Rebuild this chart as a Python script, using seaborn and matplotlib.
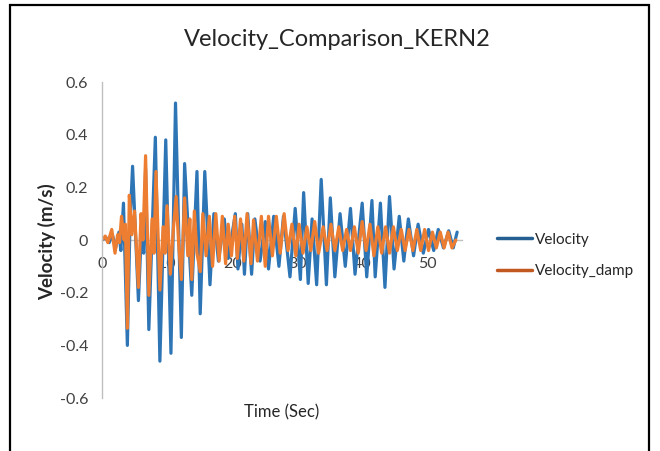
import matplotlib
matplotlib.use("Agg")
import matplotlib.pyplot as plt
import matplotlib.patches as mpatches
from matplotlib.lines import Line2D
import seaborn as sns
import pandas as pd

# ---------------- data ----------------
title = "Velocity_Comparison_KERN2"
series_names = ["Velocity", "Velocity_damp"]

vel_t = [0, 0.6, 1.1, 1.6, 2.1, 2.6, 2.9, 3.3, 3.9, 4.3, 4.7, 5.6, 6.1, 6.4, 6.7, 7.2,
         8.2, 8.9, 9.8, 10.6, 11.3, 12.2, 12.7, 13.8, 14.6, 15.1, 15.8, 16.6, 17.2, 17.9,
         18.8, 19.4, 20.5, 20.9, 21.5, 21.9, 22.4, 23.0, 23.5, 24.3, 25.1, 25.6, 26.4, 27.2,
         27.9, 28.9, 29.7, 30.5, 31.0, 31.7, 32.3, 33.0, 33.7, 34.5, 35.1, 35.8, 36.6, 37.4,
         38.2, 38.9, 40.0, 40.7, 41.5, 42.0, 42.8, 43.5, 44.2, 44.9, 45.7, 46.4, 47.1, 47.9,
         48.6, 49.4, 50.2, 51.0, 51.7, 52.5, 53.3, 54.0, 54.6]
vel_v = [0, 0.01, -0.01, 0.02, -0.03, 0.03, -0.04, 0.14, -0.40, 0.06, 0.28, -0.23, 0.06, -0.05,
         0.27, -0.34, 0.39, -0.46, 0.38, -0.43, 0.52, -0.37, 0.29, -0.21, 0.26, -0.28, 0.26,
         -0.17, 0.10, -0.08, 0.08, -0.07, 0.10, -0.11, 0.06, -0.13, 0.10, -0.13, 0.08, -0.08,
         0.07, -0.11, 0.09, -0.10, 0.09, -0.14, 0.12, -0.15, 0.18, -0.165, 0.08, -0.17, 0.23,
         -0.17, 0.16, -0.14, 0.10, -0.10, 0.12, -0.13, 0.14, -0.14, 0.15, -0.14, 0.14, -0.18,
         0.165, -0.11, 0.09, -0.08, 0.08, -0.06, 0.06, -0.05, 0.04, -0.04, 0.04, -0.03, 0.035,
         -0.03, 0.03]

damp_t = [0, 0.5, 0.9, 1.5, 2.0, 2.4, 2.7, 3.0, 3.4, 3.6, 3.9, 4.2, 4.6, 5.0, 5.6, 6.0, 6.3,
          6.7, 7.2, 7.7, 8.0, 8.3, 8.9, 9.4, 9.7, 10.0, 10.5, 11.0, 11.4, 11.8, 12.2, 12.7,
          13.2, 13.5, 13.8, 14.2, 14.6, 15.1, 15.5, 16.0, 16.5, 17.0, 17.5, 18.0, 18.5, 19.0,
          19.4, 19.9, 20.4, 20.8, 21.3, 21.8, 22.3, 22.9, 23.3, 23.9, 24.5, 25.1, 25.6, 26.2,
          26.8, 27.4, 28.0, 28.6, 29.2, 29.8, 30.3, 30.9, 31.5, 32.1, 32.7, 33.3, 34.0, 34.6,
          35.2, 35.8, 36.4, 37.0, 37.6, 38.2, 38.8, 39.4, 40.0, 40.6, 41.2, 41.8, 42.4, 43.0,
          43.6, 44.2, 44.8, 45.4, 46.0, 46.6, 47.2, 47.8, 48.4, 49.0, 49.6, 50.2, 50.8, 51.4,
          52.0, 52.6, 53.2, 53.8, 54.4]
damp_v = [0, 0.015, -0.01, 0.04, -0.05, 0.02, -0.01, 0.09, 0.0, 0.06, -0.335, 0.17, 0.02,
          0.11, -0.18, 0.10, 0.0, 0.32, -0.21, 0.08, -0.05, 0.26, -0.19, 0.05, -0.05, 0.13,
          -0.13, 0.05, 0.165, -0.02, -0.15, 0.16, -0.06, 0.08, -0.15, 0.11, -0.05, -0.12, 0.10,
          -0.06, 0.09, -0.10, 0.10, -0.08, 0.09, -0.09, 0.06, -0.06, 0.09, -0.07, 0.08, -0.08,
          0.10, -0.09, 0.076, -0.08, 0.09, -0.10, 0.09, -0.06, 0.09, -0.05, 0.10, -0.04, 0.06,
          -0.06, 0.06, -0.05, 0.05, -0.04, 0.07, -0.05, 0.05, -0.04, 0.06, -0.04, 0.05, -0.04,
          0.04, -0.04, 0.05, -0.05, 0.07, -0.04, 0.06, -0.06, 0.05, -0.05, 0.05, -0.05, 0.05,
          -0.04, 0.04, -0.04, 0.04, -0.04, 0.04, -0.04, 0.04, -0.04, 0.03, -0.03, 0.03, -0.03,
          0.03, -0.03, 0.0]

x_ticks = [0, 10, 20, 30, 40, 50]
y_ticks = [-0.6, -0.4, -0.2, 0, 0.2, 0.4, 0.6]
y_tick_labels = ["-0.6", "-0.4", "-0.2", "0", "0.2", "0.4", "0.6"]

# ---------------- figure ----------------
sns.set_theme(style="white")
plt.rcParams["font.family"] = ["Lato", "DejaVu Sans"]

W, H = 660, 451
fig = plt.figure(figsize=(W / 100, H / 100), dpi=100)
ax = fig.add_axes([102 / W, 1 - 398 / H, (461.7 - 102) / W, (398 - 82) / H])

df = pd.concat([
    pd.DataFrame({"t": vel_t, "v": vel_v, "s": series_names[0]}),
    pd.DataFrame({"t": damp_t, "v": damp_v, "s": series_names[1]}),
])
colors = {series_names[0]: "#2E75B6", series_names[1]: "#ED7D31"}
sns.lineplot(data=df, x="t", y="v", hue="s", palette=colors, estimator=None,
             sort=False, linewidth=2.3, legend=False, ax=ax)

ax.set_xlim(0, 55.3)
ax.set_ylim(-0.6, 0.6)
ax.set_xticks(x_ticks)
ax.set_yticks(y_ticks)
ax.set_yticklabels(y_tick_labels)
ax.set_xlabel("")
ax.set_ylabel("")
for s in ["top", "right"]:
    ax.spines[s].set_visible(False)
ax.spines["left"].set_color("#BFBFBF")
ax.spines["bottom"].set_color("#BFBFBF")
ax.spines["left"].set_linewidth(1.0)
ax.spines["bottom"].set_linewidth(1.0)
ax.spines["bottom"].set_position(("data", 0))
ax.spines["bottom"].set_zorder(0)
ax.tick_params(axis="both", length=0, labelsize=11.5, colors="#404040")
ax.tick_params(axis="y", pad=10)
ax.tick_params(axis="x", pad=12)

fig.text(337 / W, 1 - 40 / H, title, ha="center", va="center", fontsize=17, color="#262626")
fig.text(47 / W, 1 - 242 / H, "Velocity (m/s)", rotation=90, ha="center", va="center",
         fontsize=13.5, fontweight="bold", color="#262626")
fig.text(282 / W, 1 - 412 / H, "Time (Sec)", ha="center", va="center", fontsize=12,
         color="#262626")

handles = [Line2D([], [], color="#255E91", linewidth=2.5),
           Line2D([], [], color="#C0581F", linewidth=2.5)]
fig.legend(handles, series_names, loc="upper left", bbox_to_anchor=(489 / W, 1 - 225 / H),
           frameon=False, fontsize=11, handlelength=2.3, handletextpad=0.2,
           labelspacing=1.15, borderpad=0, labelcolor="#262626")

fig.patches.append(mpatches.Rectangle((10.5 / W, -0.1), (649 - 10.5) / W, 1.1 - 5 / H,
                                      transform=fig.transFigure, fill=False,
                                      edgecolor="black", linewidth=1.6, clip_on=False))

fig.savefig("out.png", dpi=100)
